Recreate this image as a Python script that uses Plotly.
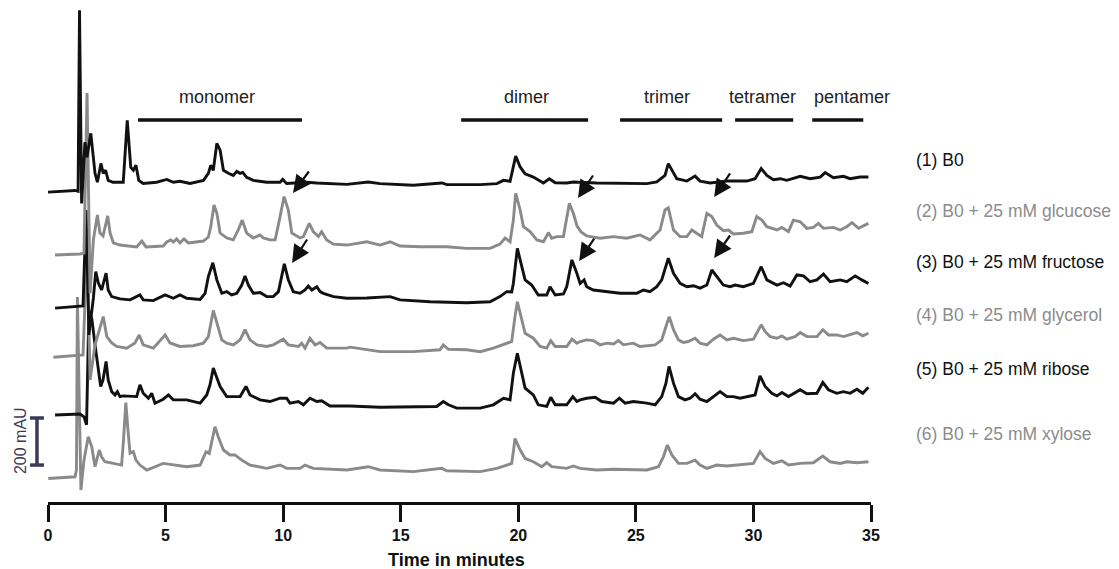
import plotly.graph_objects as go

# ---------------- data (time in minutes, signal in mAU above each trace's baseline) -------------
LABELS = ["(1) B0", "(2) B0 + 25 mM glcucose", "(3) B0 + 25 mM fructose",
          "(4) B0 + 25 mM glycerol", "(5) B0 + 25 mM ribose", "(6) B0 + 25 mM xylose"]
OFFSETS = [1350, 1088, 867, 638, 400, 123]   # stacking offset of each trace (mAU)

T1 = [0.00, 1.15, 1.28, 1.34, 1.43, 1.57, 1.66, 1.82, 2.00, 2.10, 2.25, 2.35, 2.45, 2.56, 2.76, 3.20,
      3.37, 3.52, 3.63, 3.74, 3.86, 4.05, 4.62, 5.05, 5.33, 5.61, 6.04, 6.61, 6.82, 6.92, 7.03, 7.18,
      7.32, 7.46, 7.67, 7.88, 8.03, 8.17, 8.28, 8.45, 8.73, 9.30, 9.87, 9.98, 10.15, 11.00, 11.43,
      12.71, 13.62, 14.12, 15.54, 16.75, 16.96, 18.38, 19.09, 19.37, 19.65, 19.89, 20.08, 20.29,
      20.64, 21.07, 21.32, 21.57, 22.06, 22.34, 23.34, 25.47, 25.89, 26.24, 26.38, 26.53, 26.74,
      27.17, 27.52, 27.73, 28.16, 28.87, 29.72, 30.07, 30.33, 30.57, 30.85, 31.14, 31.42, 31.99,
      32.41, 32.84, 33.05, 33.40, 33.83, 34.11, 34.54, 34.89]
S1 = [-33, -26, -30, 740, -81, 179, 115, 217, 47, 9, 89, 47, 60, 17, 9, 9,
      272, 72, 60, 81, 17, 4, 9, 21, 9, 13, 4, 17, 47, 81, 60, 174,
      145, 60, 47, 38, 55, 47, 51, 30, 17, 9, 9, 21, 4, 9, 6,
      0, 10, 3, -4, 6, -1, -1, 3, 17, 13, 120, 74, 45,
      31, 6, 24, 7, 6, 10, 6, 3, 10, 38, 88, 60, 24,
      14, 35, 14, 6, 14, 14, 24, 67, 38, 20, 24, 17, 34,
      24, 31, 50, 28, 34, 24, 31, 31]

T2 = [0.30, 1.36, 1.53, 1.66, 1.79, 1.93, 2.10, 2.21, 2.34, 2.54,
      2.64, 2.78, 3.06, 3.77, 3.99, 4.17, 4.90, 5.05, 5.22, 5.33,
      5.47, 5.61, 5.78, 5.97, 6.61, 6.82, 6.92, 7.06, 7.18, 7.32,
      7.60, 7.88, 8.09, 8.26, 8.45, 8.73, 9.02, 9.16, 9.44, 9.66,
      9.84, 10.04, 10.22, 10.37, 10.72, 10.86, 11.11, 11.28, 11.50, 11.64,
      11.85, 12.14, 12.71, 13.56, 14.12, 14.55, 14.97, 15.82, 16.96, 17.81,
      18.80, 19.22, 19.44, 19.65, 19.79, 19.89, 20.08, 20.22, 20.50, 20.79,
      21.07, 21.28, 21.42, 21.64, 21.92, 22.03, 22.17, 22.34, 22.50, 22.67,
      22.91, 23.19, 23.48, 24.05, 24.61, 25.18, 25.60, 26.03, 26.24, 26.38,
      26.60, 26.88, 27.17, 27.38, 27.59, 27.80, 28.02, 28.23, 28.44, 28.72,
      28.94, 29.15, 29.57, 29.93, 30.14, 30.36, 30.57, 31.00, 31.21, 31.49,
      31.70, 31.99, 32.27, 32.55, 32.76, 32.98, 33.40, 33.69, 33.97, 34.19,
      34.47, 34.75, 34.89]
S2 = [-38, -34, -30, 650, -200, 26, 132, 55, 43, 128,
      55, 13, 4, -4, 21, -4, 0, 17, 26, 17,
      30, 13, 30, 13, 21, 38, 81, 174, 140, 55,
      34, 26, 68, 110, 55, 34, 47, 34, 26, 26,
      110, 210, 153, 55, 34, 40, 96, 61, 40, 61,
      26, 8, 4, 18, 4, 18, 0, -3, -3, -10,
      -10, 8, 34, 18, 110, 224, 153, 82, 61, 26,
      18, 57, 33, 40, 40, 110, 181, 139, 85, 60,
      43, 38, 33, 40, 33, 47, 26, 68, 153, 162,
      68, 40, 40, 68, 54, 40, 139, 125, 89, 65,
      68, 51, 54, 61, 125, 110, 82, 68, 79, 61,
      110, 103, 75, 79, 96, 75, 79, 68, 82, 99,
      75, 89, 96]

T3 = [0.30, 1.36, 1.49, 1.62, 1.74, 1.93, 2.03, 2.14, 2.28, 2.47,
      2.56, 2.71, 3.06, 3.49, 3.91, 4.05, 4.48, 4.98, 5.12, 5.33,
      5.61, 5.90, 6.47, 6.68, 6.82, 7.01, 7.18, 7.39, 7.60, 7.81,
      8.03, 8.24, 8.38, 8.52, 8.73, 9.02, 9.30, 9.58, 9.80, 9.94,
      10.05, 10.22, 10.43, 10.72, 10.93, 11.07, 11.22, 11.43, 11.57, 11.71,
      12.14, 12.71, 13.56, 14.55, 14.97, 16.25, 17.81, 18.80, 19.22, 19.51,
      19.72, 19.79, 19.96, 20.15, 20.29, 20.57, 20.85, 21.21, 21.35, 21.57,
      21.92, 22.06, 22.28, 22.49, 22.63, 22.80, 22.91, 23.19, 23.76, 24.33,
      25.04, 25.32, 25.60, 25.89, 26.10, 26.38, 26.60, 26.88, 27.17, 27.45,
      27.73, 28.02, 28.23, 28.44, 28.72, 29.01, 29.22, 29.57, 30.00, 30.33,
      30.57, 31.00, 31.28, 31.56, 31.85, 32.13, 32.41, 32.70, 32.98, 33.26,
      33.69, 33.97, 34.33, 34.61, 34.89]
S3 = [-43, -37, -34, 374, -157, 0, 112, 64, 34, 106,
      34, 6, -4, -8, 13, -8, -11, 13, 6, -1,
      13, -1, -6, 20, 91, 150, 77, 20, 27, 13,
      20, 55, 94, 55, 20, 23, 6, 6, 27, 91,
      145, 77, 27, 20, 34, 51, 34, 48, 27, 20,
      6, -1, 0, 6, -8, -16, -20, -16, 6, 27,
      26, 62, 211, 133, 77, 55, 13, 13, 48, 13,
      17, 48, 162, 105, 62, 77, 48, 34, 27, 20,
      20, 34, 27, 48, 77, 169, 105, 62, 48, 52,
      42, 55, 119, 91, 55, 48, 55, 48, 62, 133,
      77, 55, 65, 51, 98, 94, 69, 77, 102, 69,
      77, 69, 94, 77, 62]

T4 = [0.23, 1.22, 1.49, 1.66, 1.79, 2.00, 2.17, 2.35, 2.50, 2.71,
      2.92, 3.35, 3.70, 3.88, 4.05, 4.48, 4.98, 5.19, 5.61, 6.18,
      6.61, 6.82, 7.03, 7.18, 7.39, 7.60, 7.88, 8.17, 8.38, 8.59,
      8.88, 9.30, 9.58, 10.01, 10.22, 10.65, 10.79, 10.93, 11.14, 11.36,
      11.57, 11.85, 12.71, 12.85, 14.12, 15.54, 16.67, 16.81, 17.03, 17.81,
      18.38, 18.94, 19.51, 19.72, 19.86, 19.96, 20.15, 20.29, 20.64, 20.93,
      21.21, 21.38, 21.57, 22.06, 22.28, 22.49, 22.63, 22.91, 23.19, 23.48,
      23.76, 24.05, 24.26, 24.47, 24.89, 25.18, 25.82, 26.10, 26.28, 26.42,
      26.60, 26.81, 27.02, 27.23, 27.52, 27.73, 28.02, 28.30, 28.58, 28.87,
      29.15, 29.57, 30.00, 30.14, 30.33, 30.50, 30.71, 31.00, 31.21, 31.42,
      31.77, 31.99, 32.27, 32.70, 32.95, 33.19, 33.54, 33.83, 34.11, 34.40,
      34.65, 34.89]
S4 = [-23, -17, -13, 450, -119, 30, 94, 150, 65, 38,
      23, 16, 38, 72, 30, 16, 72, 38, 23, 26,
      37, 65, 176, 122, 51, 37, 30, 51, 94, 51,
      30, 23, 30, 54, 30, 23, 37, 16, 58, 30,
      40, 16, 16, 20, 1, 1, 9, 30, 11, 9,
      1, 16, 37, 44, 150, 213, 136, 79, 58, 23,
      16, 48, 23, 23, 54, 37, 44, 51, 48, 30,
      37, 34, 48, 30, 37, 23, 30, 51, 108, 150,
      94, 51, 40, 44, 58, 37, 30, 54, 72, 51,
      58, 48, 54, 79, 115, 86, 65, 58, 68, 54,
      65, 82, 65, 65, 94, 72, 72, 65, 75, 82,
      68, 79]

T5 = [0.30, 1.36, 1.53, 1.64, 1.74, 1.87, 2.00, 2.14, 2.24, 2.34,
      2.47, 2.56, 2.71, 2.85, 2.95, 3.06, 3.20, 3.77, 3.91, 4.05,
      4.27, 4.41, 4.55, 4.90, 5.12, 5.33, 5.90, 6.47, 6.75, 6.89,
      7.03, 7.18, 7.32, 7.60, 8.17, 8.42, 8.59, 9.02, 9.44, 9.87,
      10.15, 10.29, 10.65, 10.86, 11.14, 11.43, 11.64, 11.99, 12.85, 14.12,
      15.54, 16.53, 16.81, 17.03, 17.38, 18.38, 18.94, 19.37, 19.65, 19.79,
      19.96, 20.11, 20.29, 20.64, 20.85, 21.21, 21.38, 21.57, 22.06, 22.32,
      22.49, 22.63, 22.91, 23.27, 23.55, 24.05, 24.30, 24.54, 24.89, 25.47,
      25.82, 26.10, 26.28, 26.41, 26.60, 26.81, 27.09, 27.31, 27.52, 27.73,
      28.02, 28.30, 28.58, 28.87, 29.15, 29.43, 29.79, 30.07, 30.28, 30.50,
      30.78, 31.00, 31.21, 31.49, 31.99, 32.27, 32.70, 32.95, 33.19, 33.54,
      33.83, 34.11, 34.40, 34.65, 34.89]
S5 = [-30, -26, -38, -72, 416, 374, 268, 170, 91, 119,
      197, 119, 69, 55, 69, 48, 51, 48, 98, 62,
      41, 62, 20, 37, 55, 34, 34, 20, 55, 98,
      169, 128, 91, 48, 48, 91, 55, 34, 27, 41,
      41, 20, 27, 13, 41, 27, 30, 8, 8, 3,
      3, 6, 27, 13, -1, -1, 13, 41, 34, 147,
      232, 162, 84, 55, 13, 6, 45, 13, 13, 48,
      27, 34, 41, 45, 27, 20, 41, 20, 27, 20,
      13, 48, 105, 176, 105, 48, 34, 41, 60, 37,
      27, 48, 69, 48, 48, 41, 48, 55, 136, 91,
      62, 51, 65, 48, 77, 60, 62, 108, 77, 62,
      69, 62, 79, 62, 88]

T6 = [0.01, 1.15, 1.21, 1.25, 1.40, 1.53, 1.71, 1.86, 2.00, 2.18,
      2.28, 2.42, 2.78, 3.13, 3.21, 3.31, 3.40, 3.49, 3.63, 3.74,
      3.91, 4.20, 4.90, 5.33, 5.90, 6.47, 6.72, 6.86, 7.10, 7.24,
      7.46, 7.74, 7.95, 8.24, 8.59, 9.30, 9.87, 10.15, 10.72, 10.93,
      11.28, 12.71, 13.62, 14.12, 15.54, 16.75, 16.96, 18.38, 19.09, 19.51,
      19.72, 19.80, 19.86, 20.08, 20.29, 20.64, 21.00, 21.21, 21.42, 22.06,
      22.34, 22.63, 23.34, 24.05, 24.76, 25.47, 25.96, 26.17, 26.34, 26.53,
      26.81, 27.17, 27.52, 27.73, 28.02, 28.44, 28.87, 29.29, 30.00, 30.28,
      30.50, 30.85, 31.21, 31.49, 31.99, 32.55, 32.95, 33.26, 33.69, 33.97,
      34.40, 34.89]
S6 = [-23, -16, 13, 748, -72, 55, 154, 112, 27, 98,
      69, 48, 41, 34, 140, 299, 183, 84, 91, 55,
      34, 13, 41, 34, 27, 34, 91, 84, 197, 154,
      98, 77, 77, 55, 34, 20, 34, 20, 20, 34,
      20, 13, 27, 13, 6, 20, 10, 6, 20, 34,
      41, 98, 147, 98, 62, 48, 27, 44, 27, 20,
      30, 20, 13, 16, 13, 13, 27, 69, 119, 77,
      41, 41, 55, 34, 20, 34, 30, 34, 41, 91,
      62, 41, 52, 34, 41, 44, 72, 48, 41, 48,
      44, 48]

TIMES = [T1, T2, T3, T4, T5, T6]
SIGNALS = [S1, S2, S3, S4, S5, S6]

# oligomer regions (minutes)
GROUPS = ["monomer", "dimer", "trimer", "tetramer", "pentamer"]
GROUP_START = [3.83, 17.57, 24.33, 29.22, 32.50]
GROUP_END = [10.80, 22.97, 28.67, 31.69, 34.67]
GROUP_LABEL_T = [7.19, 20.33, 26.33, 30.37, 34.20]

# arrows marking the new peaks (head and tail positions in time / mAU)
ARROW_HEAD_T = [10.42, 10.38, 22.54, 22.59, 28.33, 28.33]
ARROW_HEAD_Y = [1313, 1016, 1292, 1024, 1296, 1037]
ARROW_TAIL_T = [11.14, 11.06, 23.22, 23.27, 29.05, 29.05]
ARROW_TAIL_Y = [1411, 1122, 1394, 1126, 1403, 1139]

XTICKS = [0, 5, 10, 15, 20, 25, 30, 35]
SCALE_MAU = 200

# ---------------- styles ----------------
BLACK = "#111111"
GRAY = "#8a8a8a"
COLORS = [BLACK, GRAY, BLACK, GRAY, BLACK, GRAY]
TEXT_COLORS = ["#111111", "#8c8c8c", "#111111", "#8c8c8c", "#111111", "#8c8c8c"]
FONT = "Liberation Sans, Arial, Helvetica, sans-serif"
BAR_COLOR = "#3b3b58"

fig = go.Figure()
for k in range(5, -1, -1):
    t, s = TIMES[k], SIGNALS[k]
    assert len(t) == len(s), (k, len(t), len(s))
    fig.add_trace(go.Scatter(
        x=t, y=[v + OFFSETS[k] for v in s], mode="lines",
        line=dict(color=COLORS[k], width=2.9), name=LABELS[k],
        hoverinfo="skip", showlegend=False))

annotations = []
shapes = []

# trace labels at the right
LABEL_Y = [1453, 1237, 1020, 795, 565, 289]
for k in range(6):
    annotations.append(dict(
        text=LABELS[k], xref="paper", yref="y", x=1.052, y=LABEL_Y[k],
        xanchor="left", yanchor="middle", showarrow=False,
        font=dict(family=FONT, size=17.5, color=TEXT_COLORS[k])))

# oligomer bars and labels
for g, a, b, lt in zip(GROUPS, GROUP_START, GROUP_END, GROUP_LABEL_T):
    shapes.append(dict(type="line", xref="x", yref="y", x0=a, x1=b, y0=1623, y1=1623,
                       line=dict(color="#111111", width=3.5)))
    annotations.append(dict(text=g, xref="x", yref="y", x=lt, y=1721,
                            xanchor="center", yanchor="middle", showarrow=False,
                            font=dict(family=FONT, size=18, color="#222222")))

# arrows
for hx, hy, tx, ty in zip(ARROW_HEAD_T, ARROW_HEAD_Y, ARROW_TAIL_T, ARROW_TAIL_Y):
    annotations.append(dict(text="", x=hx, y=hy, xref="x", yref="y",
                            ax=tx, ay=ty, axref="x", ayref="y", showarrow=True,
                            arrowhead=2, arrowsize=1.6, arrowwidth=2.2,
                            arrowcolor="#111111", standoff=0))

# 200 mAU scale bar
bx, cap = -0.0134, 0.0085
shapes.append(dict(type="line", xref="paper", yref="y", x0=bx, x1=bx,
                   y0=157, y1=157 + SCALE_MAU, line=dict(color=BAR_COLOR, width=3.5)))
for yy in (157, 157 + SCALE_MAU):
    shapes.append(dict(type="line", xref="paper", yref="y", x0=bx - cap, x1=bx + cap,
                       y0=yy, y1=yy, line=dict(color=BAR_COLOR, width=3.5)))
annotations.append(dict(text=f"{SCALE_MAU} mAU", xref="paper", yref="y", x=-0.034, y=259,
                        xanchor="center", yanchor="middle", textangle=-90, showarrow=False,
                        font=dict(family=FONT, size=16, color=BAR_COLOR)))

# axis title
annotations.append(dict(text="<b>Time in minutes</b>", xref="paper", yref="paper",
                        x=0.496, y=-0.116, xanchor="center", yanchor="middle", showarrow=False,
                        font=dict(family=FONT, size=18, color="#111111")))

fig.update_layout(
    width=1119, height=569,
    margin=dict(l=48, r=248, t=2, b=67),
    paper_bgcolor="white", plot_bgcolor="white",
    xaxis=dict(range=[0, 35], tickvals=XTICKS, ticktext=[str(v) for v in XTICKS],
               showline=True, linecolor="#111111", linewidth=3, ticks="outside",
               ticklen=17, tickwidth=3, tickcolor="#111111", showgrid=False, zeroline=False,
               tickfont=dict(family=FONT, size=16, color="#111111", weight="bold"),
               ticklabelstandoff=0),
    yaxis=dict(range=[0, 2125], visible=False, showgrid=False, zeroline=False),
    annotations=annotations, shapes=shapes,
)

fig.write_html("out.html", config={"displayModeBar": False},
               post_script="document.body.style.margin='0';")
